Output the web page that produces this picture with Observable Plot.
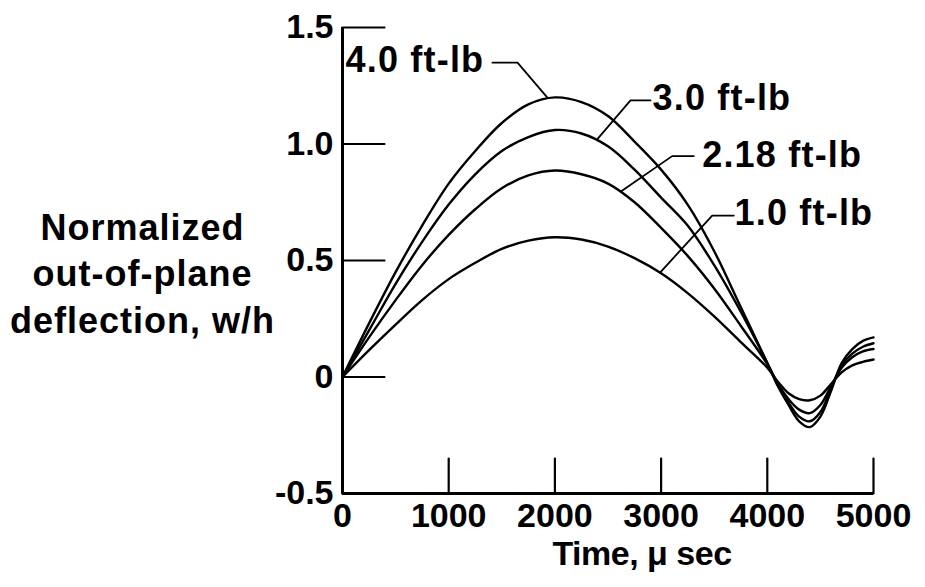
<!DOCTYPE html>
<html><head><meta charset="utf-8">
<script src="https://cdn.jsdelivr.net/npm/d3@7"></script>
<script src="https://cdn.jsdelivr.net/npm/@observablehq/plot@0.6"></script>
<style>
body{margin:0;background:#fff;}
.wide text{letter-spacing:1.2px;}
.ytitle text{letter-spacing:1px;}
.xtitle text{letter-spacing:-0.5px;}
</style>
</head><body><div id="chart"></div>
<script>
// time, microseconds
const time = [0,250,500,750,1000,1250,1500,1750,2000,2250,2500,2750,3000,3250,3500,3750,4000,4100,4200,4300,4400,4500,4600,4700,4800,4900,5000];
// normalized out-of-plane deflection for each impact energy
const w40  = [0,0.23,0.45,0.65,0.83,0.97,1.09,1.17,1.20,1.18,1.12,1.01,0.89,0.74,0.54,0.30,0.06,-0.04,-0.12,-0.19,-0.215,-0.17,-0.06,0.06,0.12,0.155,0.17];
const w30  = [0,0.20,0.40,0.58,0.74,0.87,0.97,1.03,1.06,1.045,0.99,0.89,0.77,0.65,0.48,0.28,0.06,-0.035,-0.11,-0.17,-0.19,-0.15,-0.05,0.05,0.10,0.13,0.145];
const w218 = [0,0.17,0.33,0.48,0.61,0.72,0.81,0.865,0.886,0.87,0.83,0.75,0.64,0.52,0.38,0.22,0.055,-0.03,-0.095,-0.14,-0.155,-0.12,-0.04,0.04,0.085,0.11,0.12];
const w10  = [0,0.115,0.225,0.33,0.42,0.49,0.55,0.585,0.60,0.59,0.56,0.51,0.445,0.36,0.26,0.15,0.04,-0.02,-0.07,-0.095,-0.10,-0.08,-0.03,0.02,0.05,0.065,0.075];
const seriesNames = ["4.0 ft-lb","3.0 ft-lb","2.18 ft-lb","1.0 ft-lb"];
const seriesValues = [w40, w30, w218, w10];

const xTicks = [0,1000,2000,3000,4000,5000];
const xTickLabels = ["0","1000","2000","3000","4000","5000"];
const yTicks = [-0.5,0,0.5,1.0,1.5];
const yTickLabels = ["-0.5","0","0.5","1.0","1.5"];

// label anchor positions (data units) and leader polylines
const labelT = [28, 2919, 3387, 3691];
const labelV = [1.36, 1.197, 0.951, 0.701];
const leaderT = [[1412,1648,1927],[2900,2712,2398],[3308,3104,2618],[3685,3481,2988]];
const leaderV = [[1.349,1.349,1.20],[1.187,1.187,1.02],[0.948,0.948,0.795],[0.693,0.693,0.447]];

const xTitle = "Time, \u03bc sec";
const yTitle = "Normalized\nout-of-plane\ndeflection, w/h";

const rows = [];
seriesNames.forEach((s, k) => time.forEach((t, i) => rows.push({series: s, t, w: seriesValues[k][i]})));
const leaders = [];
seriesNames.forEach((s, k) => leaderT[k].forEach((t, i) => leaders.push({series: s, t, w: leaderV[k][i]})));
const labels = seriesNames.map((s, k) => ({series: s, t: labelT[k], w: labelV[k]}));

const tickShape = {draw(ctx, l) { ctx.moveTo(0, 0); ctx.lineTo(0, -l); }};
const font = "'Liberation Sans', Arial, Helvetica, sans-serif";

const chart = Plot.plot({
  width: 925,
  height: 587,
  marginLeft: 342,
  marginRight: 52,
  marginTop: 27,
  marginBottom: 94,
  style: {fontFamily: font, fontSize: "34px", fontWeight: "bold", color: "#000", background: "#fff"},
  x: {domain: [0, 5000]},
  y: {domain: [-0.5, 1.5]},
  marks: [
    Plot.axisX(xTicks, {tickSize: 0, tickPadding: 9, tickFormat: (d, i) => xTickLabels[i], label: null, fontSize: 34}),
    Plot.axisY(yTicks, {tickSize: 0, tickPadding: 9, tickFormat: (d, i) => yTickLabels[i], label: null, fontSize: 34}),
    Plot.vector(xTicks, {x: d => d, frameAnchor: "bottom", length: 35, rotate: 0, anchor: "start", shape: tickShape, stroke: "#000", strokeWidth: 2.2}),
    Plot.vector(yTicks, {y: d => d, frameAnchor: "left", length: 42, rotate: 90, anchor: "start", shape: tickShape, stroke: "#000", strokeWidth: 2.2}),
    Plot.ruleX([0], {stroke: "#000", strokeWidth: 3}),
    Plot.ruleY([-0.5], {stroke: "#000", strokeWidth: 3}),
    Plot.line(rows, {x: "t", y: "w", z: "series", curve: "catmull-rom", stroke: "#000", strokeWidth: 2.4}),
    Plot.line(leaders, {x: "t", y: "w", z: "series", stroke: "#000", strokeWidth: 1.8}),
    Plot.text(labels, {x: "t", y: "w", text: "series", textAnchor: "start", lineAnchor: "middle", fontSize: 36, fontWeight: "bold", fill: "#000", className: "wide"}),
    Plot.text([xTitle], {text: d => d, frameAnchor: "bottom", dx: 34, dy: 61, textAnchor: "middle", lineAnchor: "middle", fontSize: 34, fontWeight: "bold", fill: "#000", className: "xtitle"}),
    Plot.text([yTitle], {text: d => d, frameAnchor: "left", dx: -200, dy: 11, textAnchor: "middle", lineAnchor: "middle", lineHeight: 1.29, fontSize: 36, fontWeight: "bold", fill: "#000", className: "ytitle"})
  ]
});
document.getElementById("chart").append(chart);
</script>
</body></html>
